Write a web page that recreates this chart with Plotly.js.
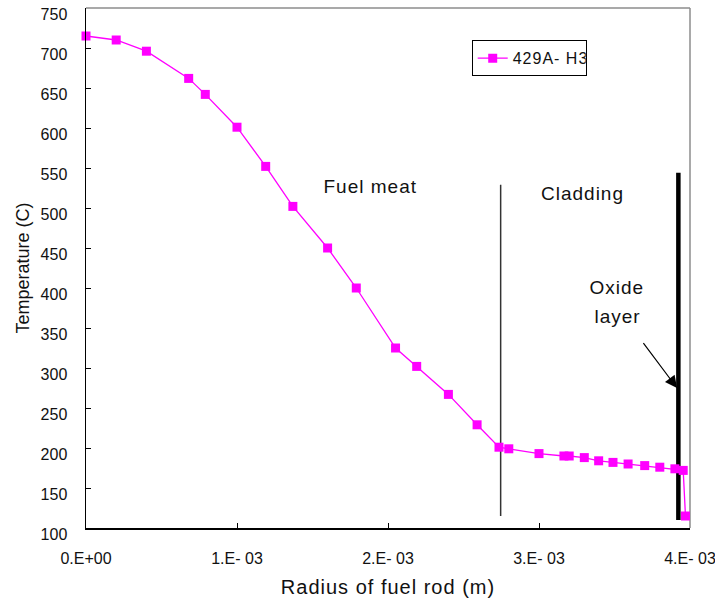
<!DOCTYPE html>
<html>
<head>
<meta charset="utf-8">
<script src="https://cdn.plot.ly/plotly-3.0.1.min.js"></script>
<style>
  html, body { margin: 0; padding: 0; background: #fff; }
  #chart { width: 715px; height: 600px; }
  #chart .xtitle, #chart .annotation-text, #chart .legendtext { letter-spacing: 1px; }
</style>
</head>
<body>
<div id="chart"></div>
<script>
// ---- data ----
const seriesName = '429A- H3';
const radius = [0, 0.0002, 0.0004, 0.00068, 0.00079, 0.001, 0.00119, 0.00137, 0.0016, 0.00179,
  0.00205, 0.00219, 0.0024, 0.00259, 0.002735, 0.0028, 0.003, 0.003165, 0.0032, 0.0033,
  0.003395, 0.00349, 0.00359, 0.0037, 0.0038, 0.0039, 0.003955, 0.00397];
const temperature = [715, 710, 696, 662, 642, 601, 552, 502, 450, 400,
  325, 302, 267, 229, 201, 199, 193, 190, 190, 188,
  184, 182, 180, 178, 176, 174, 172, 115];
const xTickVals = [0, 0.001, 0.002, 0.003, 0.004];
const xTickText = ['0.E+00', '1.E- 03', '2.E- 03', '3.E- 03', '4.E- 03'];
// region boundaries (x position, y from, y to)
const claddingBoundaryX = [0.002746, 0.002746];
const claddingBoundaryY = [115, 529];
const oxideBoundaryX = [0.003923, 0.003923];
const oxideBoundaryY = [110, 544];
// labels
const regionLabels = ['Fuel meat', 'Cladding', 'Oxide', 'layer'];
const regionLabelX = [0.001881, 0.003285, 0.003517, 0.003520];
const regionLabelY = [527, 518, 401, 364];
// arrow (tail -> head)
const arrowTail = [0.003684, 333];
const arrowHead = [0.003914, 275];

const FONT = 'Arial, "Liberation Sans", sans-serif';

const traces = [
  {
    x: claddingBoundaryX, y: claddingBoundaryY, type: 'scatter', mode: 'lines',
    line: { color: '#333333', width: 1.5 }, showlegend: false, hoverinfo: 'skip'
  },
  {
    x: oxideBoundaryX, y: oxideBoundaryY, type: 'scatter', mode: 'lines',
    line: { color: '#000000', width: 4.5 }, showlegend: false, hoverinfo: 'skip',
    cliponaxis: false
  },
  {
    x: radius, y: temperature, type: 'scatter', mode: 'lines+markers', name: seriesName,
    line: { color: '#FF00FF', width: 1.3 },
    marker: { symbol: 'square', size: 9, color: '#FF00FF' },
    cliponaxis: false
  }
];

const annotations = regionLabels.map((t, i) => ({
  x: regionLabelX[i], y: regionLabelY[i], xref: 'x', yref: 'y',
  text: t, showarrow: false, font: { family: FONT, size: 19, color: '#111' },
  xanchor: 'center', yanchor: 'middle'
}));
annotations.push({
  x: arrowHead[0], y: arrowHead[1], xref: 'x', yref: 'y',
  ax: arrowTail[0], ay: arrowTail[1], axref: 'x', ayref: 'y',
  text: '', showarrow: true, arrowhead: 2, arrowsize: 2, arrowwidth: 1.2,
  arrowcolor: '#000', standoff: 0
});

const layout = {
  width: 715, height: 600,
  margin: { l: 86, r: 25, t: 8, b: 72, pad: 0 },
  paper_bgcolor: '#fff', plot_bgcolor: '#fff',
  font: { family: FONT, size: 16, color: '#111' },
  showlegend: true,
  legend: {
    x: 0.6386, y: 0.9379, xanchor: 'left', yanchor: 'top',
    bordercolor: '#000', borderwidth: 1, bgcolor: '#fff',
    font: { family: FONT, size: 16, color: '#111' },
    itemwidth: 30, tracegroupgap: 0
  },
  xaxis: {
    range: [0, 0.004], tickvals: xTickVals, ticktext: xTickText,
    showgrid: false, zeroline: false, showline: true, linecolor: '#000', linewidth: 1.5,
    ticks: 'inside', ticklen: 5, tickcolor: '#000', tickwidth: 1,
    ticklabelstandoff: 15, ticklabeloverflow: 'allow',
    tickfont: { family: FONT, size: 16, color: '#111' },
    title: { text: 'Radius of fuel rod (m)', font: { family: FONT, size: 20, color: '#111' }, standoff: 14 }
  },
  yaxis: {
    range: [100, 750], dtick: 50, tick0: 100,
    showgrid: false, zeroline: false, showline: true, linecolor: '#000', linewidth: 1.5,
    ticks: 'inside', ticklen: 5, tickcolor: '#000', tickwidth: 1,
    ticklabelstandoff: 14, ticklabelshift: 6, ticklabeloverflow: 'allow',
    tickfont: { family: FONT, size: 16, color: '#111' },
    title: { text: 'Temperature (C)', font: { family: FONT, size: 18, color: '#111' }, standoff: 6 }
  },
  shapes: [
    { type: 'line', xref: 'paper', yref: 'paper', x0: 0, x1: 1, y0: 1, y1: 1, line: { color: '#8c8c8c', width: 1.5 }, layer: 'below' },
    { type: 'line', xref: 'paper', yref: 'paper', x0: 1, x1: 1, y0: 0, y1: 1, line: { color: '#8c8c8c', width: 1.5 }, layer: 'below' }
  ],
  annotations: annotations
};

Plotly.newPlot('chart', traces, layout, { displayModeBar: false, staticPlot: true });
</script>
</body>
</html>
